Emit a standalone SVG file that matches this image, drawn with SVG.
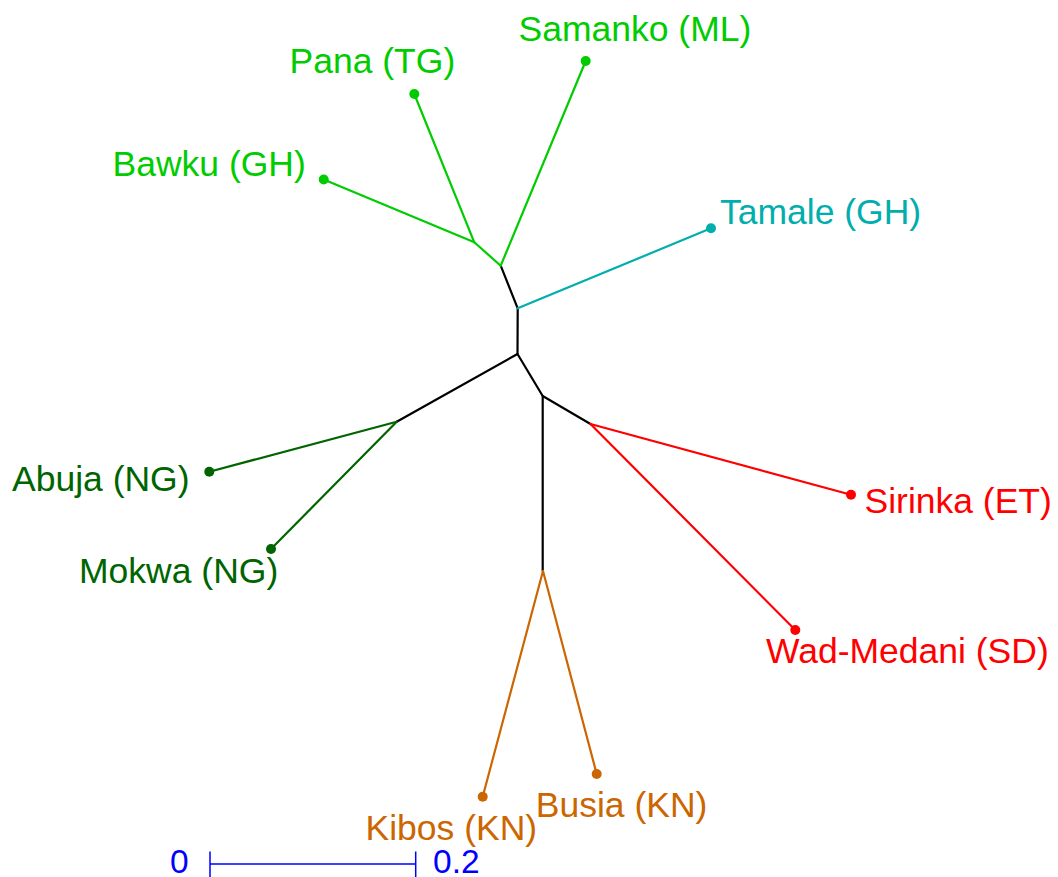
<svg xmlns="http://www.w3.org/2000/svg" width="1058" height="877" viewBox="0 0 1058 877">
<style>
.e{fill:none;stroke-width:2.2;stroke-linecap:round;stroke-linejoin:round}
.k{stroke:#000}
.lg{stroke:#00cc00}.lgf{fill:#00cc00}
.tl{stroke:#00aeae}.tlf{fill:#00aeae}
.dg{stroke:#006400}.dgf{fill:#006400}
.rd{stroke:#ff0000}.rdf{fill:#ff0000}
.or{stroke:#cc6600}.orf{fill:#cc6600}
text{font-family:"Liberation Sans",Arial,sans-serif;font-size:35.5px}
.sb{fill:#0000ff;font-size:33.5px}
</style>
<rect width="1058" height="877" fill="#fff"/>
<g id="connectors">
<polyline class="e k" points="500.7,265.7 517.7,308.3 517.5,354 542.7,396 542.7,571"/>
<line class="e k" x1="517.5" y1="354" x2="396.7" y2="421.7"/>
<line class="e k" x1="542.7" y1="396" x2="590.5" y2="424"/>
<line class="e lg" x1="500.7" y1="265.7" x2="474.3" y2="242.3"/>
<line class="e lg" x1="474.3" y1="242.3" x2="323.7" y2="179.5"/>
<line class="e lg" x1="474.3" y1="242.3" x2="414.3" y2="94"/>
<line class="e lg" x1="500.7" y1="265.7" x2="585.7" y2="61"/>
<line class="e tl" x1="517.7" y1="308.3" x2="711" y2="228.3"/>
<line class="e dg" x1="396.7" y1="421.7" x2="209.3" y2="471.7"/>
<line class="e dg" x1="396.7" y1="421.7" x2="271" y2="549"/>
<line class="e rd" x1="590.5" y1="424" x2="851" y2="494.7"/>
<line class="e rd" x1="590.5" y1="424" x2="795.3" y2="630"/>
<line class="e or" x1="543" y1="571" x2="482.7" y2="796.7"/>
<line class="e or" x1="543" y1="571" x2="596.7" y2="774"/>
</g>
<g id="samanko"><circle class="lgf" cx="585.7" cy="61" r="5"/><text class="lgf" x="518.5" y="40.7">Samanko (ML)</text></g>
<g id="pana"><circle class="lgf" cx="414.3" cy="94" r="5"/><text class="lgf" x="289.5" y="72.7">Pana (TG)</text></g>
<g id="bawku"><circle class="lgf" cx="323.7" cy="179.5" r="5"/><text class="lgf" x="112.5" y="175.7">Bawku (GH)</text></g>
<g id="tamale"><circle class="tlf" cx="711" cy="228.3" r="5"/><text class="tlf" x="720" y="224.3">Tamale (GH)</text></g>
<g id="abuja"><circle class="dgf" cx="209.3" cy="471.7" r="5"/><text class="dgf" x="12" y="490.7">Abuja (NG)</text></g>
<g id="mokwa"><circle class="dgf" cx="271" cy="549" r="5"/><text class="dgf" x="79" y="583">Mokwa (NG)</text></g>
<g id="sirinka"><circle class="rdf" cx="851" cy="494.7" r="5"/><text class="rdf" x="864.5" y="513.3">Sirinka (ET)</text></g>
<g id="wadmedani"><circle class="rdf" cx="795.3" cy="630" r="5"/><text class="rdf" x="766" y="663.3">Wad-Medani (SD)</text></g>
<g id="kibos"><circle class="orf" cx="482.7" cy="796.7" r="5"/><text class="orf" x="365.5" y="840">Kibos (KN)</text></g>
<g id="busia"><circle class="orf" cx="596.7" cy="774" r="5"/><text class="orf" x="535.8" y="817.3">Busia (KN)</text></g>
<g id="scalebar">
<path d="M210,864H415.7M210,851.5V877M415.7,851.5V877" fill="none" stroke="#0000ff" stroke-width="1.5"/>
<text class="sb" x="170" y="873.3">0</text>
<text class="sb" x="433" y="873.3">0.2</text>
</g>
</svg>
